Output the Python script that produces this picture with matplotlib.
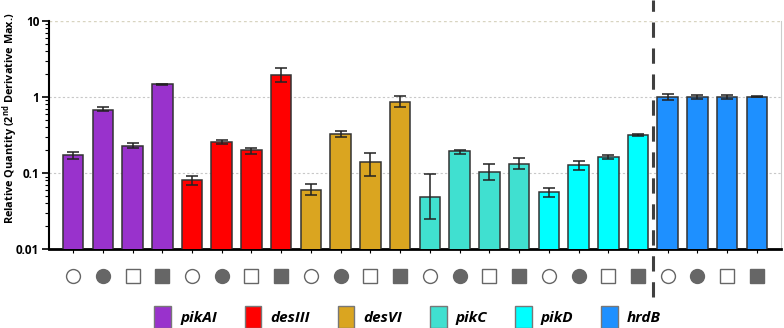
import numpy as np
import matplotlib.pyplot as plt
import matplotlib.transforms as mtransforms
from matplotlib.patches import Patch

genes = ["pikAI", "desIII", "desVI", "pikC", "pikD", "hrdB"]
gene_colors = ["#9932CC", "#FF0000", "#DAA520", "#40E0D0", "#00FFFF", "#1E90FF"]

# four conditions per gene (open circle, filled circle, open square, filled square)
values = [0.172, 0.68, 0.229, 1.46,
          0.080, 0.256, 0.201, 1.94,
          0.0605, 0.326, 0.14, 0.865,
          0.049, 0.193, 0.102, 0.130,
          0.0565, 0.127, 0.163, 0.316,
          1.0, 1.0, 1.0, 1.0]
err_hi = [0.19, 0.73, 0.246, 1.48,
          0.0923, 0.274, 0.215, 2.4,
          0.072, 0.36, 0.185, 1.03,
          0.0963, 0.201, 0.132, 0.156,
          0.063, 0.146, 0.174, 0.322,
          1.1, 1.06, 1.06, 1.015]
err_lo = [0.153, 0.66, 0.215, 1.44,
          0.0698, 0.243, 0.18, 1.58,
          0.052, 0.297, 0.092, 0.747,
          0.0252, 0.18, 0.080, 0.113,
          0.049, 0.11, 0.155, 0.31,
          0.9, 0.95, 0.95, 0.985]
symbols = ["o", "o", "s", "s"]
symbol_filled = [False, True, False, True]

values = np.array(values)
yerr = np.array([values - np.array(err_lo), np.array(err_hi) - values])
x = np.arange(len(values))
colors = [c for c in gene_colors for _ in range(4)]

plt.rcParams["mathtext.fontset"] = "custom"
plt.rcParams["mathtext.bf"] = "Open Sans:bold"
plt.rcParams["mathtext.rm"] = "Open Sans"

fig = plt.figure(figsize=(7.84, 3.28), dpi=100)
ax = fig.add_axes([49 / 784, 1 - 249.3 / 328, 732 / 784, 228.6 / 328])

ax.bar(x, values, width=0.69, color=colors, edgecolor="#333333", linewidth=1.1, zorder=3)
ax.errorbar(x, values, yerr=yerr, fmt="none", ecolor="#222222", elinewidth=1.1,
            capsize=4, capthick=1.1, zorder=4)

ax.set_yscale("log")
ax.set_ylim(0.01, 10)
ax.set_xlim(-0.81, len(values) - 1 + 0.81)
ax.set_yticks([0.01, 0.1, 1, 10])
ax.set_yticklabels(["0.01", "0.1", "1", "10"], fontweight="bold", fontsize=8.5,
                   family="Open Sans")
ax.set_xticks(x)
ax.set_xticklabels([])
ax.tick_params(axis="x", length=3, width=0.8, direction="out")
ax.tick_params(axis="y", which="major", length=5, width=1.2, pad=2)
ax.tick_params(axis="y", which="minor", length=3, width=0.8)
for yv in [0.1, 1]:
    ax.axhline(yv, color="#c8c8c8", linestyle=(0, (2, 2)), linewidth=0.8, zorder=1)
ax.axhline(10, color="#d8d4c0", linestyle=(0, (2, 2)), linewidth=1.0, zorder=1)
ax.spines["top"].set_visible(False)
ax.spines["right"].set_color("#cccccc")
ax.spines["left"].set_linewidth(1.5)
ax.spines["bottom"].set_linewidth(2)
ax.set_ylabel("Relative Quantity (2$^{\\mathbf{nd}}$ Derivative Max.)", fontweight="bold",
              fontsize=7.8, family="Open Sans")
ax.yaxis.set_label_coords(-0.04, 0.575)

# condition symbols under the axis
trans = mtransforms.blended_transform_factory(ax.transData, ax.transAxes)
for i in x:
    k = i % 4
    ax.plot(i, -0.115, marker=symbols[k], markersize=10 if symbols[k] == "o" else 10.5,
            markerfacecolor="#666666" if symbol_filled[k] else "white",
            markeredgecolor="#666666", markeredgewidth=1.0,
            transform=trans, clip_on=False)

# divider between target genes and the reference gene
ax.plot([19.5, 19.5], [-0.21, 1.09], color="#404040", linewidth=2.2,
        linestyle=(0, (5, 3.5)), transform=trans, clip_on=False, zorder=5)

handles = [Patch(facecolor=c, edgecolor="#777777", linewidth=1) for c in gene_colors]
leg = fig.legend(handles, genes, loc="center", bbox_to_anchor=(0.52, 1 - 317 / 328),
                 ncol=6, frameon=False, handlelength=1.1, handleheight=1.85,
                 handletextpad=0.6, columnspacing=1.8,
                 prop={"weight": "bold", "style": "italic", "size": 11, "family": "Open Sans"})

fig.savefig("out.png", dpi=100)
